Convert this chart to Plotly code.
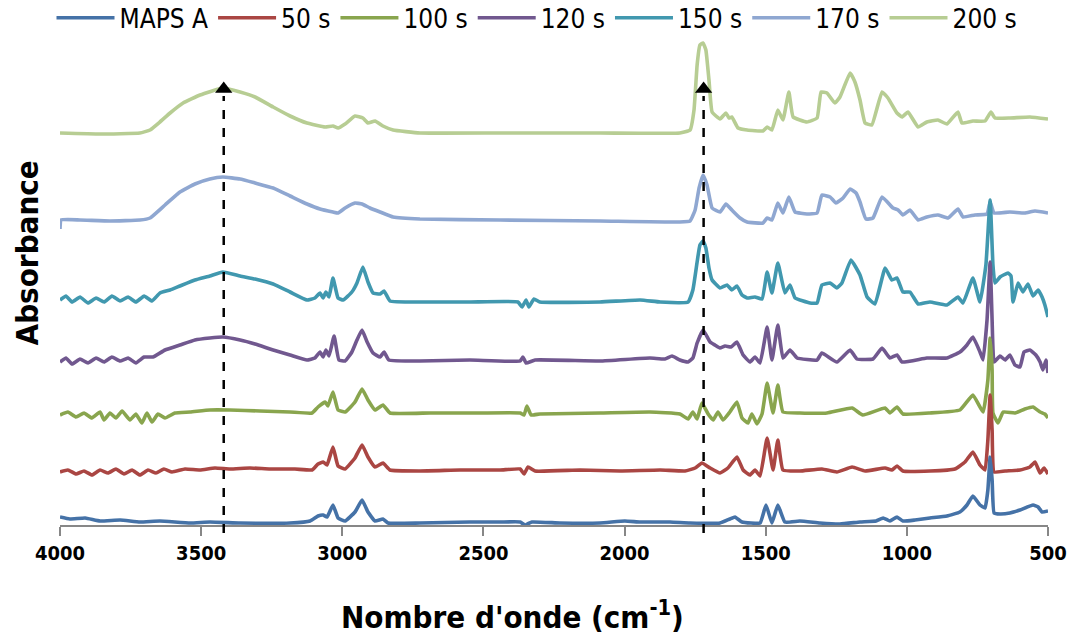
import plotly.graph_objects as go

# ---------------- data ----------------
series_names = ["MAPS A", "50 s", "100 s", "120 s", "150 s", "170 s", "200 s"]
series_colors = ["#4572A7", "#AA4643", "#89A54E", "#71588F", "#4198AF", "#8FA7D1", "#B7CD93"]

maps_a_wn = [4000,3965,3911,3858,3787,3717,3646,3539,3469,3362,3185,3114,3086,3068,3054,3033,3015,2990,2955,2930,2909,2884,2856,2838,2725,2548,2441,2370,2353,2328,2229,2087,1999,1945,1839,1768,1662,1627,1609,1584,1520,1499,1478,1457,1432,1379,1308,1237,1166,1109,1084,1060,1035,1014,971,918,858,812,787,766,741,723,713,705,698,691,670,635,599,553,535,521,500]
maps_a_abs = [0.08,0.06,0.07,0.04,0.05,0.03,0.04,0.02,0.03,0.02,0.02,0.04,0.09,0.10,0.08,0.20,0.07,0.04,0.13,0.25,0.13,0.04,0.06,0.02,0.02,0.03,0.03,0.03,0.00,0.03,0.02,0.02,0.04,0.03,0.03,0.02,0.02,0.06,0.08,0.03,0.02,0.20,0.02,0.20,0.03,0.04,0.02,0.01,0.03,0.04,0.07,0.04,0.08,0.04,0.05,0.07,0.09,0.13,0.20,0.29,0.20,0.17,0.35,0.68,0.45,0.12,0.11,0.12,0.15,0.20,0.18,0.13,0.14]

s50_wn = [4000,3972,3943,3915,3887,3858,3830,3802,3773,3745,3717,3688,3660,3632,3603,3557,3504,3451,3398,3327,3256,3168,3107,3086,3068,3054,3033,3015,2990,2955,2930,2909,2884,2856,2831,2725,2583,2441,2370,2356,2342,2317,2158,2016,1874,1786,1750,1726,1697,1662,1634,1602,1580,1556,1538,1520,1495,1474,1457,1439,1379,1301,1248,1194,1148,1077,1053,1035,1014,918,830,794,766,741,723,713,705,698,691,652,599,564,546,528,514,500]
s50_abs = [0.53,0.55,0.51,0.54,0.50,0.55,0.52,0.56,0.51,0.55,0.50,0.55,0.52,0.56,0.53,0.56,0.55,0.57,0.56,0.57,0.56,0.56,0.55,0.61,0.63,0.60,0.78,0.59,0.56,0.67,0.80,0.68,0.58,0.62,0.55,0.54,0.55,0.55,0.56,0.51,0.58,0.54,0.55,0.54,0.55,0.54,0.57,0.62,0.57,0.52,0.57,0.68,0.55,0.50,0.55,0.49,0.87,0.55,0.85,0.55,0.54,0.56,0.53,0.58,0.54,0.57,0.55,0.59,0.54,0.54,0.56,0.63,0.73,0.60,0.55,0.85,1.30,0.95,0.53,0.54,0.55,0.58,0.63,0.52,0.57,0.51]

s100_wn = [4000,3972,3943,3915,3887,3858,3844,3823,3802,3780,3752,3731,3710,3692,3674,3653,3628,3593,3539,3469,3398,3292,3185,3107,3086,3061,3051,3033,3015,2990,2955,2930,2909,2884,2856,2831,2689,2512,2370,2356,2346,2331,2300,2087,1910,1804,1775,1758,1743,1726,1704,1686,1669,1651,1627,1602,1584,1563,1549,1531,1513,1495,1474,1457,1439,1379,1283,1194,1156,1077,1060,1035,1014,918,812,766,730,713,705,698,695,677,659,617,582,553,528,511,500]
s100_abs = [1.10,1.13,1.08,1.12,1.07,1.13,1.05,1.12,1.07,1.14,1.05,1.11,1.02,1.12,1.03,1.11,1.07,1.12,1.13,1.15,1.15,1.14,1.13,1.12,1.18,1.23,1.19,1.33,1.15,1.13,1.23,1.36,1.25,1.15,1.20,1.12,1.12,1.12,1.12,1.10,1.19,1.10,1.11,1.12,1.13,1.11,1.06,1.13,1.06,1.22,1.11,1.05,1.13,1.05,1.13,1.23,1.07,1.02,1.11,1.01,1.11,1.42,1.12,1.40,1.13,1.12,1.12,1.17,1.10,1.17,1.12,1.18,1.11,1.12,1.15,1.30,1.13,1.45,1.87,1.55,1.12,1.02,1.13,1.12,1.16,1.18,1.13,1.11,1.07]

s120_wn = [4000,3979,3957,3929,3901,3872,3844,3816,3787,3759,3731,3702,3671,3628,3575,3522,3469,3423,3362,3309,3245,3185,3125,3097,3079,3068,3058,3047,3029,3012,2990,2966,2948,2930,2912,2891,2866,2852,2835,2725,2548,2370,2360,2349,2317,2087,1910,1857,1832,1804,1775,1758,1743,1722,1697,1680,1662,1644,1623,1602,1580,1556,1538,1520,1495,1478,1457,1439,1414,1389,1318,1301,1248,1201,1177,1120,1088,1060,1035,1017,929,858,812,787,766,741,730,716,705,698,691,670,652,635,617,599,585,564,543,528,518,507,500]
s120_abs = [1.63,1.67,1.61,1.66,1.62,1.67,1.63,1.68,1.64,1.67,1.62,1.68,1.68,1.75,1.80,1.85,1.87,1.88,1.85,1.81,1.75,1.70,1.65,1.67,1.73,1.68,1.75,1.69,1.89,1.65,1.64,1.73,1.85,1.95,1.83,1.72,1.68,1.73,1.65,1.64,1.65,1.64,1.68,1.62,1.65,1.64,1.67,1.66,1.69,1.65,1.63,1.67,1.82,1.95,1.83,1.80,1.77,1.79,1.78,1.83,1.70,1.63,1.68,1.62,1.98,1.65,2.00,1.67,1.75,1.67,1.65,1.72,1.63,1.75,1.66,1.66,1.77,1.67,1.70,1.63,1.67,1.67,1.73,1.80,1.88,1.73,1.65,2.05,2.63,2.05,1.63,1.69,1.65,1.70,1.60,1.58,1.73,1.75,1.70,1.63,1.55,1.65,1.52]

s150_wn = [4000,3979,3957,3929,3901,3872,3844,3816,3787,3759,3731,3702,3674,3646,3610,3575,3522,3469,3423,3362,3309,3245,3185,3125,3097,3079,3068,3058,3047,3033,3015,2997,2966,2948,2927,2909,2891,2866,2852,2831,2725,2548,2378,2363,2349,2339,2321,2300,2087,1945,1874,1775,1758,1743,1733,1722,1712,1701,1690,1662,1637,1620,1602,1584,1566,1538,1513,1495,1478,1457,1432,1414,1396,1343,1318,1301,1272,1248,1230,1198,1166,1141,1113,1077,1053,1035,1014,989,960,918,858,819,801,766,741,720,705,695,688,670,642,631,624,606,589,571,553,535,521,511,500]
s150_abs = [2.25,2.29,2.23,2.28,2.22,2.27,2.23,2.29,2.24,2.28,2.23,2.29,2.24,2.32,2.35,2.39,2.45,2.49,2.53,2.49,2.46,2.41,2.33,2.25,2.27,2.32,2.27,2.33,2.28,2.47,2.27,2.25,2.33,2.42,2.58,2.43,2.32,2.31,2.34,2.24,2.23,2.23,2.23,2.18,2.25,2.18,2.26,2.23,2.23,2.25,2.23,2.23,2.35,2.63,2.80,2.84,2.77,2.57,2.45,2.37,2.40,2.35,2.39,2.30,2.27,2.28,2.26,2.53,2.32,2.62,2.32,2.40,2.27,2.22,2.22,2.40,2.42,2.37,2.42,2.65,2.50,2.28,2.21,2.57,2.45,2.47,2.33,2.33,2.21,2.23,2.20,2.28,2.22,2.47,2.23,2.60,3.25,2.60,2.42,2.48,2.52,2.49,2.23,2.42,2.33,2.41,2.29,2.35,2.28,2.20,2.08]

s170_wn = [4000,3996,3929,3823,3717,3681,3628,3575,3522,3469,3423,3362,3309,3245,3185,3125,3079,3033,3015,2990,2955,2930,2902,2866,2820,2725,2441,2087,1804,1768,1750,1736,1722,1708,1690,1662,1641,1620,1591,1566,1510,1495,1478,1457,1439,1418,1396,1354,1318,1301,1272,1251,1226,1201,1180,1166,1145,1120,1088,1049,1031,1014,989,960,929,890,854,819,801,759,716,705,691,635,582,546,500]
s170_abs = [2.96,3.05,3.05,3.04,3.05,3.07,3.20,3.33,3.41,3.46,3.48,3.46,3.42,3.37,3.29,3.21,3.16,3.13,3.12,3.17,3.22,3.21,3.17,3.13,3.08,3.06,3.05,3.04,3.03,3.04,3.15,3.37,3.50,3.40,3.17,3.13,3.21,3.15,3.07,3.03,3.02,3.07,3.05,3.22,3.12,3.28,3.13,3.11,3.12,3.30,3.28,3.22,3.27,3.36,3.32,3.23,3.06,3.07,3.28,3.17,3.15,3.10,3.15,3.05,3.08,3.10,3.07,3.16,3.08,3.10,3.11,3.23,3.12,3.13,3.12,3.14,3.12]

s200_wn = [4000,3858,3717,3681,3646,3610,3564,3504,3423,3362,3309,3245,3185,3125,3061,3033,3015,2990,2955,2927,2909,2884,2856,2820,2725,2441,2087,1804,1768,1754,1743,1733,1722,1712,1701,1690,1662,1641,1630,1620,1598,1566,1510,1495,1478,1457,1439,1418,1403,1354,1318,1304,1283,1255,1237,1201,1184,1166,1148,1124,1088,1067,1035,1017,996,960,929,890,858,819,805,766,723,702,688,635,564,500]
s200_abs = [3.92,3.91,3.92,3.95,4.03,4.12,4.22,4.30,4.37,4.33,4.28,4.18,4.09,4.02,3.98,3.99,3.97,4.01,4.09,4.07,4.02,4.04,3.99,3.95,3.92,3.92,3.92,3.92,3.95,4.15,4.60,4.80,4.82,4.75,4.45,4.13,4.06,4.12,4.07,4.08,3.97,3.95,3.94,3.98,3.95,4.15,4.05,4.33,4.08,4.03,4.07,4.33,4.32,4.22,4.28,4.52,4.43,4.25,4.02,4.00,4.33,4.27,4.12,4.08,4.13,3.98,4.03,4.05,4.01,4.13,4.02,4.04,4.04,4.13,4.07,4.07,4.08,4.06]

# marked bands (dashed arrows)
arrow_wn = [3420, 1720]
arrow_tip_abs = [4.36, 4.36]

x_tick_vals = [4000, 3500, 3000, 2500, 2000, 1500, 1000, 500]
x_tick_text = ["4000", "3500", "3000", "2500", "2000", "1500", "1000", "500"]

all_wn = [maps_a_wn, s50_wn, s100_wn, s120_wn, s150_wn, s170_wn, s200_wn]
all_abs = [maps_a_abs, s50_abs, s100_abs, s120_abs, s150_abs, s170_abs, s200_abs]

# ---------------- figure ----------------
FONT = "DejaVu Sans Condensed, Liberation Sans Narrow, Arial Narrow, sans-serif"

W, H = 1074, 638
M_L, M_R, M_T, M_B = 60, 26, 0, 113
PLOT_TOP_PX = 35
y_dom_top = (H - M_B - PLOT_TOP_PX) / (H - M_B)

fig = go.Figure()
# draw last series first so that MAPS A lies on top (as in the reference)
for i in reversed(range(len(series_names))):
    fig.add_trace(go.Scatter(
        x=all_wn[i], y=all_abs[i], mode="lines", name=series_names[i],
        line=dict(color=series_colors[i], width=3.6, shape="spline", smoothing=0.35),
    ))

for wn in arrow_wn:
    fig.add_shape(type="line", xref="x", yref="paper",
                  x0=wn, x1=wn, y0=-0.015, y1=0.817,
                  line=dict(color="black", width=2.5, dash="dash"))

fig.add_trace(go.Scatter(
    x=arrow_wn, y=arrow_tip_abs, mode="markers", showlegend=False,
    marker=dict(symbol="triangle-up", size=15, color="black"), cliponaxis=False,
))

fig.update_layout(
    width=W, height=H,
    margin=dict(l=M_L, r=M_R, t=M_T, b=M_B, autoexpand=False),
    paper_bgcolor="white", plot_bgcolor="white",
    font=dict(family=FONT, color="black"),
    showlegend=True,
    legend=dict(orientation="h", xref="container", yref="container",
                x=0.5, xanchor="center", y=0.972, yanchor="middle",
                traceorder="reversed", font=dict(size=26, family=FONT),
                itemwidth=58, tracegroupgap=0, borderwidth=0,
                bgcolor="rgba(0,0,0,0)"),
    xaxis=dict(range=[4000, 500], autorange=False, tickmode="array",
               tickvals=x_tick_vals, ticktext=x_tick_text,
               showgrid=False, zeroline=False, showline=True,
               linecolor="#878787", linewidth=2,
               ticks="outside", ticklen=9, tickwidth=2, tickcolor="#878787",
               tickfont=dict(size=20, family=FONT, color="black", weight="bold")),
    yaxis=dict(range=[0, 4.9], domain=[0, y_dom_top], visible=False,
               showgrid=False, zeroline=False),
    annotations=[
        dict(text="<b>Nombre d'onde (cm<sup>-1</sup>)</b>", xref="paper", yref="paper",
             x=0.4575, y=-0.172, xanchor="center", yanchor="middle", showarrow=False,
             font=dict(size=31, family=FONT, color="black")),
        dict(text="<b>Absorbance</b>", xref="paper", yref="paper", textangle=-90,
             x=-0.033, y=0.518, xanchor="center", yanchor="middle", showarrow=False,
             font=dict(size=31, family=FONT, color="black")),
    ],
)

fig.write_html("out.html", config={"displayModeBar": False},
               post_script="document.body.style.margin='0px';")
